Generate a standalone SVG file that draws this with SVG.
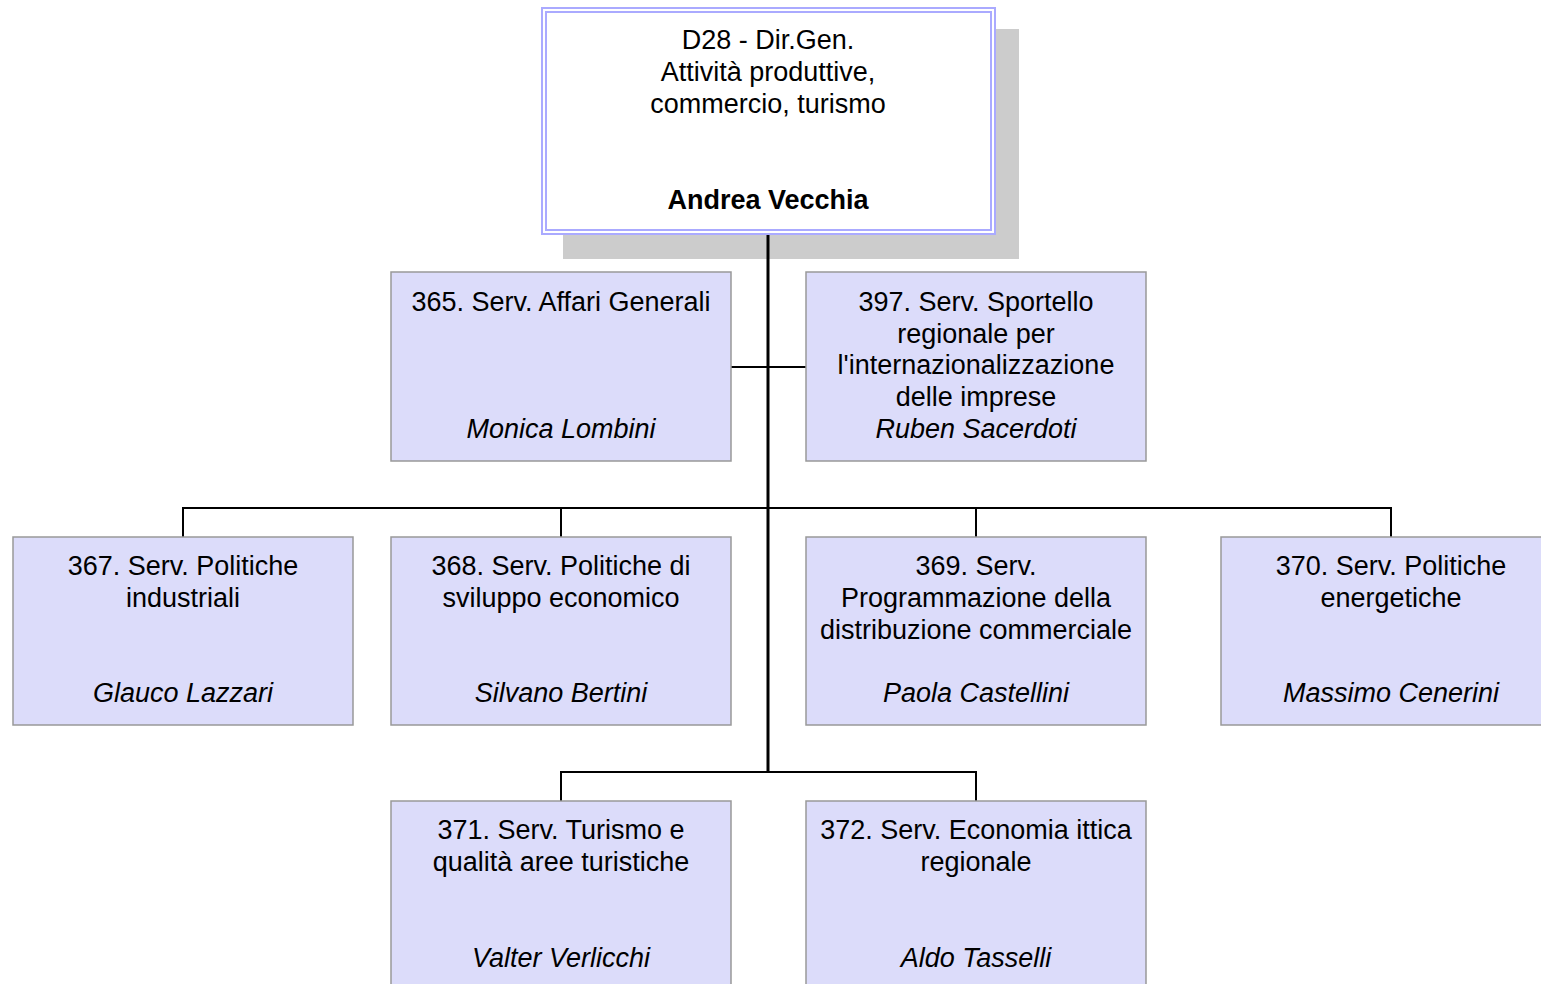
<svg xmlns="http://www.w3.org/2000/svg" width="1541" height="984" viewBox="0 0 1541 984">
<style>
text{font-family:"Liberation Sans",Arial,sans-serif;font-size:27px;fill:#000;text-anchor:middle}
.nm{font-style:italic}
.bd{font-weight:bold}
.box{fill:#dcdcfa;stroke:#999;stroke-width:1.5}
.ln{stroke:#000;stroke-width:2;fill:none}
.trunk{stroke:#000;stroke-width:3;fill:none}
</style>
<rect width="1541" height="984" fill="#fff"/>
<g id="d28">
<rect x="563" y="29" width="456" height="230" fill="#cccccc"/>
<rect x="542" y="8" width="453" height="226" fill="#fff" stroke="#aaaaff" stroke-width="2"/>
<rect x="546" y="12" width="445" height="218" fill="none" stroke="#aaaaff" stroke-width="2"/>
<text x="768" y="49">D28 - Dir.Gen.</text>
<text x="768" y="81">Attività produttive,</text>
<text x="768" y="113">commercio, turismo</text>
<text class="bd" x="768" y="209">Andrea Vecchia</text>
</g>
<g id="connectors">
<line class="trunk" x1="768" y1="235" x2="768" y2="772"/>
<line class="ln" x1="731" y1="367" x2="806" y2="367"/>
<polyline class="ln" points="183,537 183,508 1391,508 1391,537"/>
<line class="ln" x1="561" y1="508" x2="561" y2="537"/>
<line class="ln" x1="976" y1="508" x2="976" y2="537"/>
<polyline class="ln" points="561,801 561,772 976,772 976,801"/>
</g>
<g id="n365">
<rect class="box" x="391" y="272" width="340" height="189"/>
<text x="561" y="311">365. Serv. Affari Generali</text>
<text class="nm" x="561" y="438">Monica Lombini</text>
</g>
<g id="n397">
<rect class="box" x="806" y="272" width="340" height="189"/>
<text x="976" y="311">397. Serv. Sportello</text>
<text x="976" y="343">regionale per</text>
<text x="976" y="374">l'internazionalizzazione</text>
<text x="976" y="406">delle imprese</text>
<text class="nm" x="976" y="438">Ruben Sacerdoti</text>
</g>
<g id="n367">
<rect class="box" x="13" y="537" width="340" height="188"/>
<text x="183" y="575">367. Serv. Politiche</text>
<text x="183" y="607">industriali</text>
<text class="nm" x="183" y="702">Glauco Lazzari</text>
</g>
<g id="n368">
<rect class="box" x="391" y="537" width="340" height="188"/>
<text x="561" y="575">368. Serv. Politiche di</text>
<text x="561" y="607">sviluppo economico</text>
<text class="nm" x="561" y="702">Silvano Bertini</text>
</g>
<g id="n369">
<rect class="box" x="806" y="537" width="340" height="188"/>
<text x="976" y="575">369. Serv.</text>
<text x="976" y="607">Programmazione della</text>
<text x="976" y="639">distribuzione commerciale</text>
<text class="nm" x="976" y="702">Paola Castellini</text>
</g>
<g id="n370">
<rect class="box" x="1221" y="537" width="340" height="188"/>
<text x="1391" y="575">370. Serv. Politiche</text>
<text x="1391" y="607">energetiche</text>
<text class="nm" x="1391" y="702">Massimo Cenerini</text>
</g>
<g id="n371">
<rect class="box" x="391" y="801" width="340" height="200"/>
<text x="561" y="839">371. Serv. Turismo e</text>
<text x="561" y="871">qualità aree turistiche</text>
<text class="nm" x="561" y="967">Valter Verlicchi</text>
</g>
<g id="n372">
<rect class="box" x="806" y="801" width="340" height="200"/>
<text x="976" y="839">372. Serv. Economia ittica</text>
<text x="976" y="871">regionale</text>
<text class="nm" x="976" y="967">Aldo Tasselli</text>
</g>
</svg>
